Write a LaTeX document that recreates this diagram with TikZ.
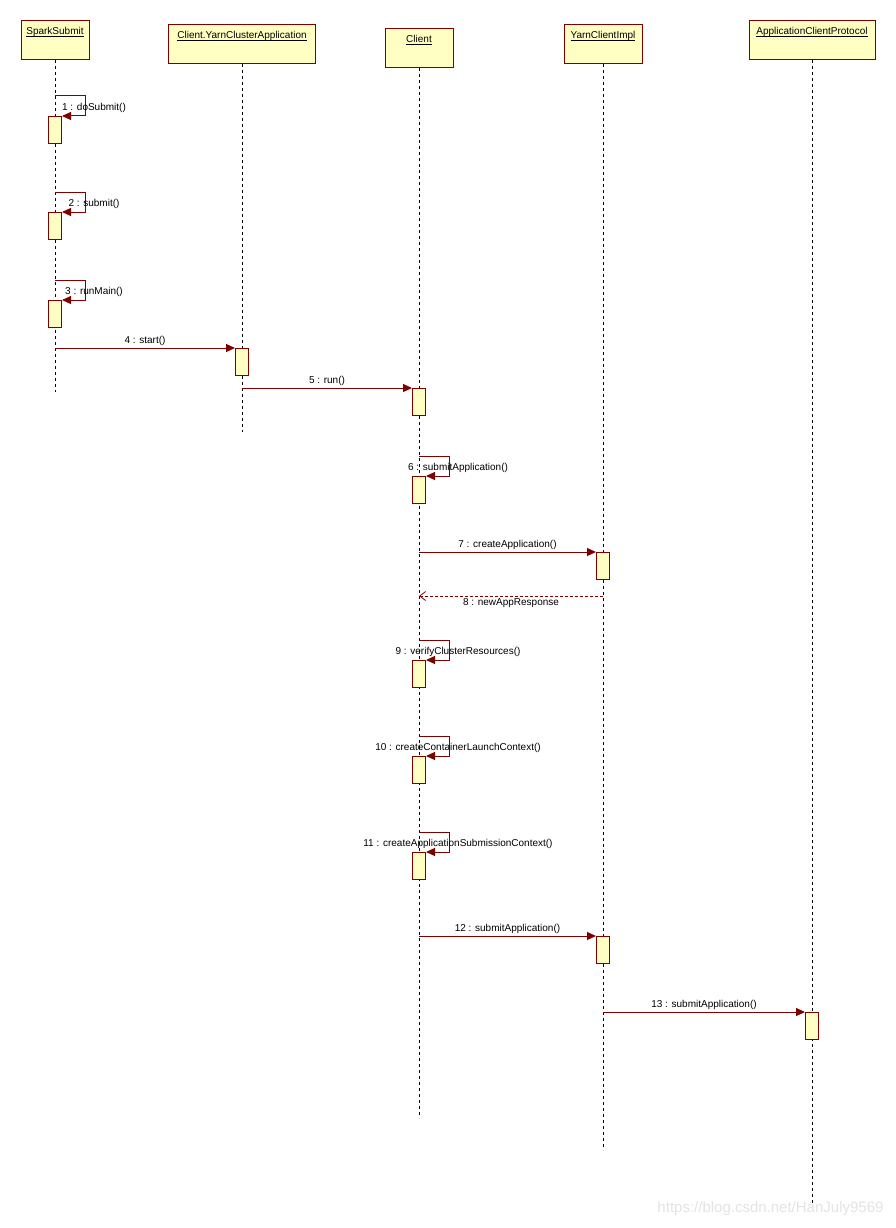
\documentclass[tikz,border=0pt]{standalone}
\usepackage{fontspec}
\setmainfont{Liberation Sans}
\usetikzlibrary{arrows.meta}
\definecolor{umlred}{RGB}{128,0,0}
\definecolor{umlfill}{RGB}{255,255,196}
\newcommand{\objname}[1]{\setbox0\hbox{#1}\rlap{\rule[-1.8pt]{\wd0}{0.7pt}}\box0}
\begin{document}
\begin{tikzpicture}[
  x=1pt, y=-1pt,
  font=\fontsize{10}{12}\selectfont,
  obj/.style={draw=umlred, fill=umlfill, line width=1pt, anchor=north, inner xsep=3pt, inner ysep=6pt, text height=8pt, text depth=19pt},
  act/.style={draw=umlred, fill=umlfill, line width=1pt, anchor=north, minimum width=13pt, minimum height=27pt, inner sep=0pt},
  lifeline/.style={draw=black, line width=1pt, dash pattern=on 3pt off 3pt},
  msg/.style={draw=umlred, line width=1pt, -{Triangle[length=9pt, width=8pt]}},
  reply/.style={draw=umlred, line width=0.8pt, dash pattern=on 3pt off 2pt, -{Straight Barb[length=6pt, width=9pt]}},
  mlabel/.style={inner sep=2pt}
]
  \useasboundingbox (0,0) rectangle (895,1228);

  % objects
  \node[obj, minimum width=68pt]  (ss)  at (55,20)  {\objname{SparkSubmit}};
  \node[obj, minimum width=147pt] (yca) at (242,24) {\objname{Client.YarnClusterApplication}};
  \node[obj, minimum width=68pt]  (cl)  at (419,28) {\objname{Client}};
  \node[obj, minimum width=78pt]  (yci) at (603,24) {\objname{YarnClientImpl}};
  \node[obj, minimum width=126pt] (acp) at (812,20) {\objname{ApplicationClientProtocol}};

  % lifelines
  \coordinate (ssend)  at (55,392);
  \coordinate (ycaend) at (242,432);
  \coordinate (clend)  at (419,1118);
  \coordinate (yciend) at (603,1150);
  \coordinate (acpend) at (812,1205);
  \draw[lifeline] (ss.south)  -- (ssend);
  \draw[lifeline] (yca.south) -- (ycaend);
  \draw[lifeline] (cl.south)  -- (clend);
  \draw[lifeline] (yci.south) -- (yciend);
  \draw[lifeline] (acp.south) -- (acpend);

  % activations
  \node[act] (a1)  at (55,116)   {};
  \node[act] (a2)  at (55,212)   {};
  \node[act] (a3)  at (55,300)   {};
  \node[act] (a4)  at (242,348)  {};
  \node[act] (a5)  at (419,388)  {};
  \node[act] (a6)  at (419,476)  {};
  \node[act] (a7)  at (603,552)  {};
  \node[act] (a9)  at (419,660)  {};
  \node[act] (a10) at (419,756)  {};
  \node[act] (a11) at (419,852)  {};
  \node[act] (a12) at (603,936)  {};
  \node[act] (a13) at (812,1012) {};

  % self calls
  \draw[msg] ([yshift=20pt]a1.north) -- ++(30,0) |- (a1.north east);
  \node[mlabel] (l1) at ([xshift=39pt, yshift=8.5pt]a1.north) {1 : doSubmit()};
  \draw[msg] ([yshift=20pt]a2.north) -- ++(30,0) |- (a2.north east);
  \node[mlabel] (l2) at ([xshift=39pt, yshift=8.5pt]a2.north) {2 : submit()};
  \draw[msg] ([yshift=20pt]a3.north) -- ++(30,0) |- (a3.north east);
  \node[mlabel] (l3) at ([xshift=39pt, yshift=8.5pt]a3.north) {3 : runMain()};
  \draw[msg] ([yshift=20pt]a6.north) -- ++(30,0) |- (a6.north east);
  \node[mlabel] (l6) at ([xshift=39pt, yshift=8.5pt]a6.north) {6 : submitApplication()};
  \draw[msg] ([yshift=20pt]a9.north) -- ++(30,0) |- (a9.north east);
  \node[mlabel] (l9) at ([xshift=39pt, yshift=8.5pt]a9.north) {9 : verifyClusterResources()};
  \draw[msg] ([yshift=20pt]a10.north) -- ++(30,0) |- (a10.north east);
  \node[mlabel] (l10) at ([xshift=39pt, yshift=8.5pt]a10.north) {10 : createContainerLaunchContext()};
  \draw[msg] ([yshift=20pt]a11.north) -- ++(30,0) |- (a11.north east);
  \node[mlabel] (l11) at ([xshift=39pt, yshift=8.5pt]a11.north) {11 : createApplicationSubmissionContext()};

  % calls between objects
  \draw[msg] (ss|-a4.north) -- (a4.north west) node[mlabel, midway, above] {4 : start()};
  \draw[msg] (yca|-a5.north) -- (a5.north west) node[mlabel, midway, above] {5 : run()};
  \draw[msg] (cl|-a7.north) -- (a7.north west) node[mlabel, midway, above] {7 : createApplication()};
  \coordinate (r8) at (603,596);
  \draw[reply] (r8) -- (cl|-r8) node[mlabel, midway, below] {8 : newAppResponse};
  \draw[msg] (cl|-a12.north) -- (a12.north west) node[mlabel, midway, above] {12 : submitApplication()};
  \draw[msg] (yci|-a13.north) -- (a13.north west) node[mlabel, midway, above] {13 : submitApplication()};

  % watermark
  \node[anchor=east, text=black!11, font=\fontsize{15}{17}\selectfont] (wm) at (887,1209) {https://blog.csdn.net/HanJuly9569};
\end{tikzpicture}
\end{document}
